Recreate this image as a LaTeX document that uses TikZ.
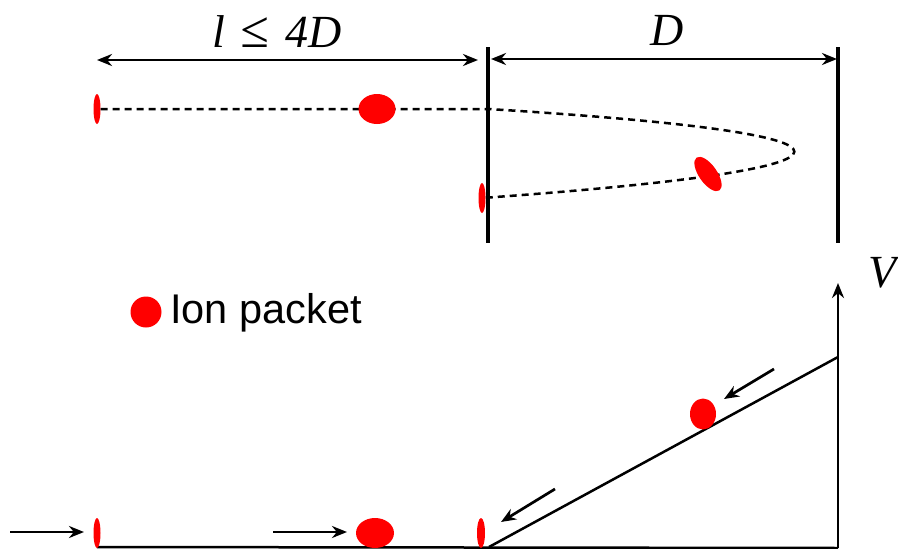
\documentclass[tikz,border=0pt]{standalone}
\usepackage{fontspec}
\setmainfont{Liberation Serif}
\newfontfamily\labelsans{Liberation Sans}
\usetikzlibrary{arrows.meta,shapes.geometric}
\tikzset{
  plate/.style={line width=4.6pt},
  dimarrow/.style={line width=2.6pt,{Stealth[length=15pt,width=12pt]}-{Stealth[length=15pt,width=12pt]}},
  traj/.style={line width=2.5pt,dash pattern=on 7pt off 5pt},
  packet/.style={ellipse,fill=red,draw=none,inner sep=0pt,outer sep=0pt},
  axisline/.style={line width=2.5pt},
  motion/.style={line width=2.7pt,-{Stealth[length=15pt,width=12pt]}},
  mathlabel/.style={font=\fontsize{46}{50}\selectfont\itshape,inner sep=0pt}
}
\begin{document}
\begin{tikzpicture}[x=1pt,y=-1pt]
\useasboundingbox (0,0) rectangle (898,549);
% coordinates
\coordinate (plL1) at (488,47);
\coordinate (plL2) at (488,243);
\coordinate (plR1) at (838,47);
\coordinate (plR2) at (838,243);
\coordinate (dimA) at (97,60);
\coordinate (dimB) at (478,60);
\coordinate (dimC) at (491,59);
\coordinate (dimD) at (837,59);
\coordinate (entry) at (488,109);
% plates
\draw[plate] (plL1) -- (plL2);
\draw[plate] (plR1) -- (plR2);
% dimension arrows
\draw[dimarrow] (dimA) -- (dimB);
\draw[dimarrow] (dimC) -- (dimD);
\node[mathlabel] (lab1) at (277,32) {l\hspace{15pt}{\fontsize{52}{56}\selectfont ≤}\hspace{17pt}4D};
\node[mathlabel] (lab2) at (667,30) {D};
% packets top
\node[packet,minimum width=7pt,minimum height=30pt] (pA) at (97,109) {};
\node[packet,minimum width=7pt,minimum height=30pt] (pC) at (482,198) {};
% trajectory
\draw[traj] (pA.east) -- (entry) .. controls (895,134) and (900,168) .. (pC.center);
\node[packet,minimum width=37pt,minimum height=30pt] (pB) at (377,109) {};
\node[packet,minimum width=40pt,minimum height=18pt,rotate=-55] (pD) at (708,174) {};
% legend
\node[circle,fill=red,inner sep=0pt,minimum size=31pt] (leg) at (146,312) {};
\node[anchor=west,inner sep=0pt,font=\labelsans\fontsize{41.5}{46}\selectfont] (legt) at (170,313) {Ion packet};
% potential plot
\coordinate (o) at (97,547);
\coordinate (ax0) at (838,548);
\coordinate (axT) at (838,283);
\coordinate (r0) at (489,547);
\coordinate (r1) at (838,357);
\draw[axisline] (o) -- (ax0);
\draw[axisline,-{Stealth[length=15pt,width=12pt]}] (ax0) -- (axT);
\draw[axisline] (r0) -- (r1);
\node[mathlabel] (lV) at (883,273) {V};
% bottom packets
\node[packet,minimum width=7pt,minimum height=30pt] (q1) at (97,533) {};
\node[packet,minimum width=38pt,minimum height=30pt] (q2) at (375,533) {};
\node[packet,minimum width=8pt,minimum height=30pt] (q3) at (481,533) {};
\node[packet,minimum width=26pt,minimum height=31pt] (q4) at (703,414) {};
% motion arrows
\coordinate (m1a) at (10,532); \coordinate (m1b) at (84,532);
\coordinate (m2a) at (273,532); \coordinate (m2b) at (347,532);
\coordinate (m3a) at (555,489); \coordinate (m3b) at (501,522);
\coordinate (m4a) at (774,369); \coordinate (m4b) at (724,399);
\draw[motion] (m1a) -- (m1b);
\draw[motion] (m2a) -- (m2b);
\draw[motion] (m3a) -- (m3b);
\draw[motion] (m4a) -- (m4b);
\end{tikzpicture}
\end{document}
